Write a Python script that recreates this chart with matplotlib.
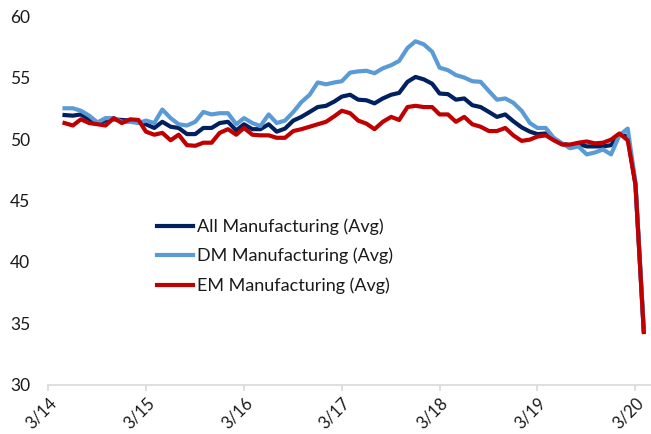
# Global manufacturing PMI averages, 5/14 - 4/20
import pandas as pd
import matplotlib.pyplot as plt
import matplotlib.dates as mdates

# Data (monthly, May 2014 - April 2020) ...............................
months = pd.date_range("2014-05-01", "2020-04-01", freq="MS")

all_mfg = [51.95, 51.9, 52.0, 51.6, 51.3, 51.5, 51.6, 51.55, 51.5, 51.4, 51.2, 50.9,
           51.4, 51.0, 50.9, 50.4, 50.4, 50.9, 50.9, 51.3, 51.4, 50.7, 51.2, 50.8,
           50.8, 51.2, 50.6, 50.85, 51.5, 51.8, 52.2, 52.6, 52.7, 53.05, 53.45, 53.6,
           53.2, 53.15, 52.9, 53.3, 53.6, 53.75, 54.65, 55.05, 54.85, 54.5, 53.7, 53.65,
           53.2, 53.3, 52.75, 52.6, 52.2, 51.8, 52.0, 51.45, 50.95, 50.6, 50.4, 50.45,
           49.95, 49.6, 49.5, 49.6, 49.4, 49.4, 49.4, 49.5, 50.4, 50.2, 46.3, 34.4]

dm_mfg = [52.5, 52.5, 52.3, 51.9, 51.35, 51.7, 51.7, 51.4, 51.4, 51.3, 51.5, 51.3,
          52.4, 51.7, 51.2, 51.1, 51.4, 52.2, 52.0, 52.1, 52.1, 51.2, 51.7, 51.3,
          51.05, 52.0, 51.3, 51.5, 52.2, 53.0, 53.6, 54.6, 54.45, 54.6, 54.7, 55.4,
          55.5, 55.55, 55.35, 55.75, 56.0, 56.35, 57.4, 57.95, 57.7, 57.1, 55.8, 55.6,
          55.2, 55.0, 54.7, 54.65, 53.9, 53.2, 53.3, 52.95, 52.3, 51.3, 50.9, 50.9,
          50.1, 49.65, 49.25, 49.4, 48.75, 48.9, 49.15, 48.75, 50.3, 50.85, 46.5, 34.5]

em_mfg = [51.3, 51.1, 51.6, 51.3, 51.2, 51.1, 51.7, 51.3, 51.6, 51.55, 50.6, 50.35,
          50.5, 49.9, 50.35, 49.5, 49.45, 49.7, 49.7, 50.5, 50.8, 50.35, 50.9, 50.35,
          50.3, 50.3, 50.1, 50.1, 50.65, 50.8, 51.0, 51.2, 51.4, 51.85, 52.3, 52.1,
          51.5, 51.25, 50.8, 51.4, 51.8, 51.55, 52.6, 52.7, 52.6, 52.6, 52.0, 52.0,
          51.4, 51.8, 51.2, 51.0, 50.65, 50.65, 50.9, 50.3, 49.85, 49.95, 50.2, 50.3,
          49.9, 49.55, 49.55, 49.7, 49.8, 49.65, 49.7, 49.95, 50.45, 49.9, 46.3, 34.3]

labels = ["All Manufacturing (Avg)", "DM Manufacturing (Avg)", "EM Manufacturing (Avg)"]
colors = ["#002060", "#5B9BD5", "#C00000"]

# Plot ..................................................................
plt.rcParams["font.family"] = ["Lato", "DejaVu Sans"]
text_col = "#1a1a1a"
grey = "#D9D9D9"

fig = plt.figure(figsize=(6.51, 4.34), dpi=100)
ax = fig.add_axes([0.074, 0.113, 0.926, 0.85])

for series, lab, col in zip([all_mfg, dm_mfg, em_mfg], labels, colors):
    ax.plot(months, series, color=col, lw=3.0, label=lab, solid_joinstyle="round")

ax.set_ylim(30, 60)
ax.set_yticks(range(30, 61, 5))
ax.set_xlim(pd.Timestamp("2014-03-01"), pd.Timestamp("2020-04-28"))
ax.xaxis.set_major_locator(mdates.MonthLocator(bymonth=3))
ax.xaxis.set_major_formatter(mdates.DateFormatter("%-m/%y"))

for side in ["left", "right", "top"]:
    ax.spines[side].set_visible(False)
ax.spines["bottom"].set_color(grey)
ax.spines["bottom"].set_linewidth(1.2)

ax.tick_params(axis="y", length=0, pad=13, labelsize=12.5, labelcolor=text_col)
ax.tick_params(axis="x", length=4, width=1.2, color=grey, direction="out",
               pad=3, labelsize=12, labelcolor=text_col)
for lbl in ax.get_xticklabels():
    lbl.set_rotation(45)
    lbl.set_ha("right")
    lbl.set_rotation_mode("anchor")

ax.legend(loc="upper left", bbox_to_anchor=(0.241, 0.497), bbox_transform=fig.transFigure,
          frameon=False, fontsize=13, labelcolor=text_col, handlelength=2.0,
          handletextpad=0.2, labelspacing=0.72, borderpad=0, borderaxespad=0)

fig.savefig("out.png", dpi=100)
